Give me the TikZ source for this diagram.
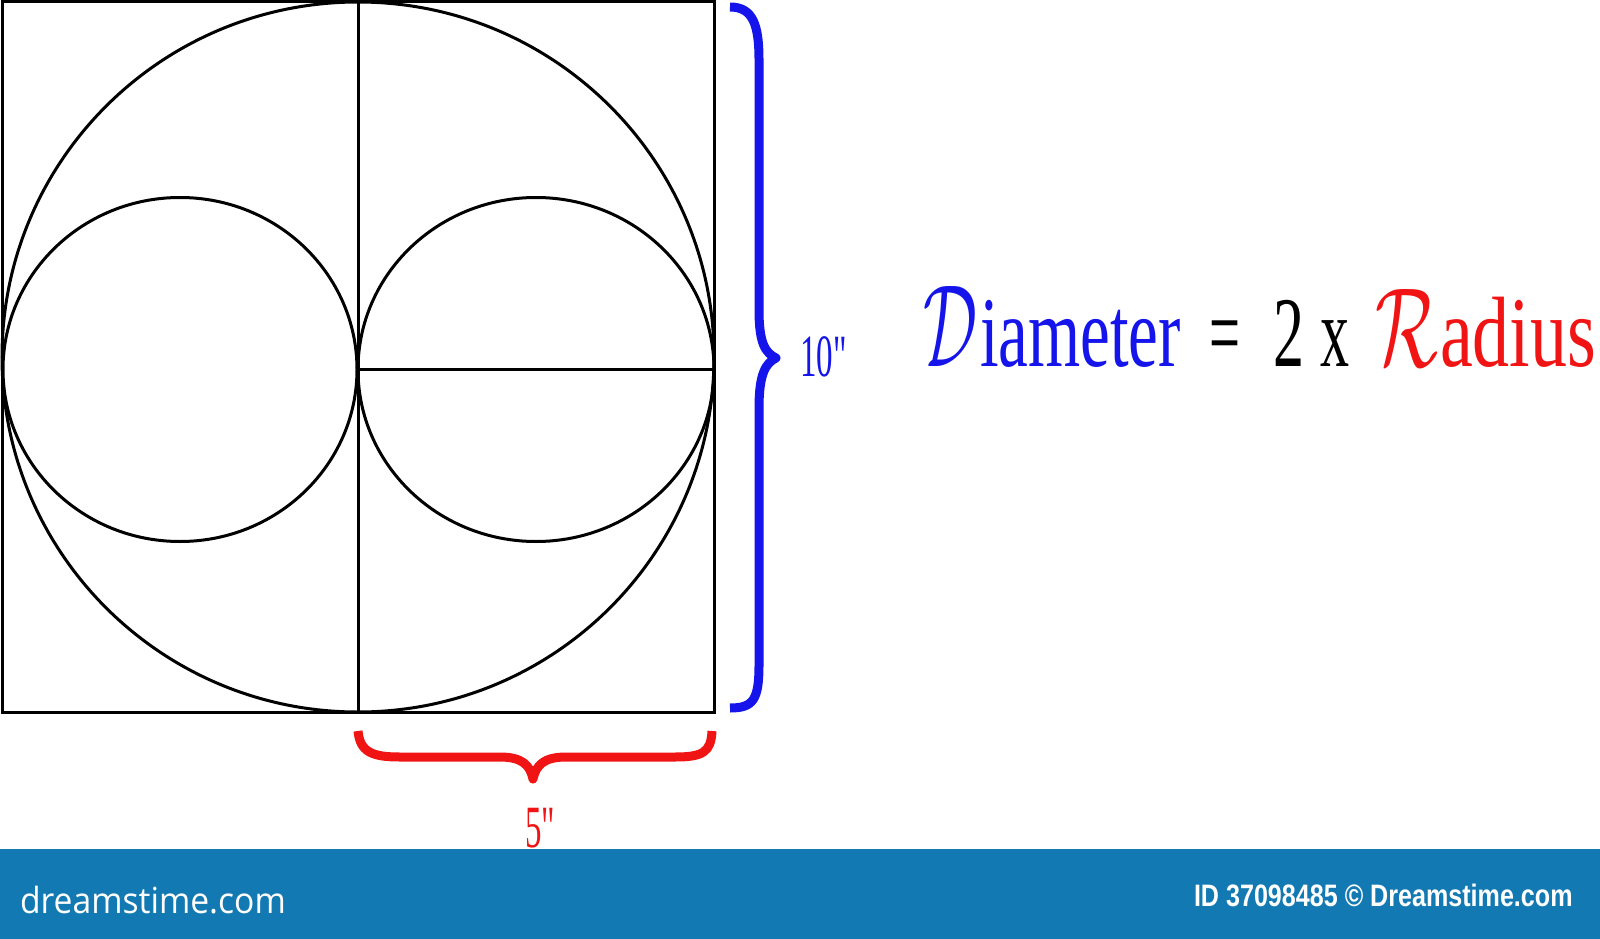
\documentclass[tikz,border=0pt]{standalone}
\usepackage{fontspec}
\setmainfont{Liberation Serif}
\newfontfamily\rawserif[Ligatures=TeXOff]{Liberation Serif}
\newfontfamily\bannerfont{Liberation Sans}
\newfontfamily\logofont{Open Sans}
\definecolor{dblue}{RGB}{20,20,235}
\definecolor{dred}{RGB}{240,20,20}
\definecolor{banner}{RGB}{18,121,178}
\begin{document}
\begin{tikzpicture}[x=1pt,y=-1pt,
  geom/.style={line width=3pt,draw=black},
  bluebrace/.style={line width=9pt,draw=dblue,line join=round},
  redbrace/.style={line width=9pt,draw=dred,line join=round},
  txt/.style={inner sep=0pt,outer sep=0pt,anchor=base west}]
\useasboundingbox (0,0) rectangle (1600,939);
% square
\coordinate (tl) at (2,2);
\coordinate (br) at (714,712);
\coordinate (vtop) at (358,2);
\coordinate (vbot) at (358,712);
\coordinate (hl) at (358,369);
\coordinate (hr) at (714,369);
\draw[geom] (tl) rectangle (br);
\draw[geom] (358,357) ellipse [x radius=356pt,y radius=355pt];
\draw[geom] (180,369.5) ellipse [x radius=177pt,y radius=172pt];
\draw[geom] (536,369.5) ellipse [x radius=178pt,y radius=172pt];
\draw[geom] (vtop) -- (vbot);
\draw[geom] (hl) -- (hr);
% blue brace
\draw[bluebrace] (730,7) .. controls (753,7) and (759,25) .. (759,60) -- (759,310)
  .. controls (759,345) and (766,353) .. (776,358)
  .. controls (766,363) and (759,373) .. (759,408) -- (759,665)
  .. controls (759,700) and (753,708) .. (730,708);
% red brace
\draw[redbrace] (358,731) .. controls (360,752) and (372,757) .. (400,757) -- (500,757)
  .. controls (522,757) and (530,765) .. (533,779)
  .. controls (536,765) and (544,757) .. (566,757) -- (675,757)
  .. controls (703,757) and (711,752) .. (712,731);
% labels
\node[txt,text=dblue] (ten) at (800,376) {\scalebox{0.55}[1]{\rawserif\fontsize{60pt}{66pt}\selectfont 10"}};
\node[txt,text=dred] (five) at (525,847) {\scalebox{0.55}[1]{\rawserif\fontsize{60pt}{66pt}\selectfont 5"}};
% formula
\node[txt,text=dblue] (dcal) at (923,366) {\resizebox{54pt}{80pt}{$\mathcal{D}$}};
\node[txt,text=dblue] (iam) at (980,366) {\scalebox{0.67}[1]{\fontsize{100pt}{110pt}\selectfont iameter}};
\node[txt] (eq) at (1209,366) {\scalebox{0.55}[1]{\fontsize{100pt}{110pt}\selectfont =}};
\node[txt] (two) at (1273,366) {\scalebox{0.62}[1]{\fontsize{100pt}{110pt}\selectfont 2}};
\node[txt] (times) at (1320,366) {\scalebox{0.58}[1]{\fontsize{100pt}{110pt}\selectfont x}};
\node[txt,text=dred] (rcal) at (1375,366) {\resizebox{63pt}{77pt}{$\mathcal{R}$}};
\node[txt,text=dred] (adi) at (1440,366) {\scalebox{0.74}[1]{\fontsize{100pt}{110pt}\selectfont adius}};
% banner
\fill[banner] (0,849) rectangle (1600,939);
\node[txt,text=white] (logo) at (20,913) {\scalebox{0.935}[1]{\logofont\fontsize{36pt}{40pt}\selectfont dreamstime.com}};
\node[txt,text=white] (credit) at (1194,906) {\scalebox{0.81}[1]{\bannerfont\bfseries\fontsize{31pt}{36pt}\selectfont ID 37098485 \textcopyright{} Dreamstime.com}};
\end{tikzpicture}
\end{document}
